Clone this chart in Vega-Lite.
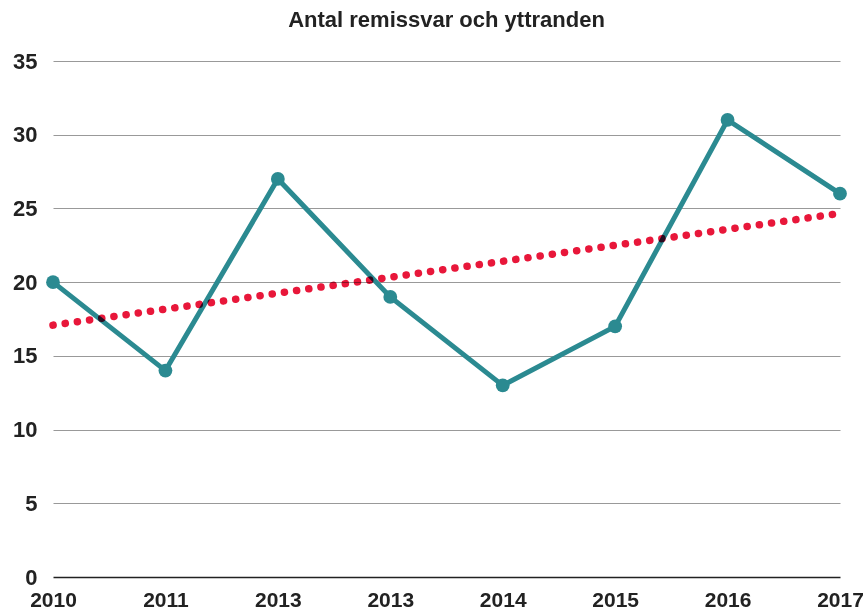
{
  "$schema": "https://vega.github.io/schema/vega-lite/v6.json",
  "autosize": {"type": "none"},
  "width": 787,
  "height": 516,
  "padding": {"left": 53, "top": 61, "right": 25, "bottom": 33},
  "background": "white",
  "title": {
    "text": "Antal remissvar och yttranden",
    "font": "Liberation Sans",
    "fontSize": 22,
    "fontWeight": "bold",
    "color": "#222",
    "anchor": "middle",
    "offset": 18
  },
  "config": {"view": {"stroke": null}},
  "data": {
    "values": [
      {"i": 0, "year": "2010", "count": 20},
      {"i": 1, "year": "2011", "count": 14},
      {"i": 2, "year": "2013", "count": 27},
      {"i": 3, "year": "2013", "count": 19},
      {"i": 4, "year": "2014", "count": 13},
      {"i": 5, "year": "2015", "count": 17},
      {"i": 6, "year": "2016", "count": 31},
      {"i": 7, "year": "2017", "count": 26}
    ]
  },
  "encoding": {
    "x": {
      "field": "i",
      "type": "quantitative",
      "scale": {"domain": [0, 7], "nice": false, "zero": false},
      "axis": {
        "title": null,
        "values": [0, 1, 2, 3, 4, 5, 6, 7],
        "labelExpr": "['2010','2011','2013','2013','2014','2015','2016','2017'][datum.value]",
        "grid": false,
        "ticks": false,
        "domain": false,
        "labelFont": "Liberation Sans",
        "labelFontSize": 21,
        "labelFontWeight": "bold",
        "labelColor": "#222",
        "labelPadding": 12,
        "labelFlush": false,
        "labelOverlap": false
      }
    },
    "y": {
      "field": "count",
      "type": "quantitative",
      "scale": {"domain": [0, 35], "nice": false},
      "axis": {
        "title": null,
        "values": [0, 5, 10, 15, 20, 25, 30, 35],
        "grid": true,
        "gridColor": {"condition": {"test": "datum.value === 0", "value": "#222"}, "value": "#999"},
        "gridWidth": {"condition": {"test": "datum.value === 0", "value": 1.5}, "value": 1},
        "ticks": false,
        "domain": false,
        "labelFont": "Liberation Sans",
        "labelFontSize": 22,
        "labelFontWeight": "bold",
        "labelColor": "#222",
        "labelPadding": 16,
        "labelOverlap": false
      }
    }
  },
  "layer": [
    {
      "mark": {"type": "line", "color": "#2b8a91", "strokeWidth": 5},
      "encoding": {}
    },
    {
      "mark": {"type": "point", "filled": true, "opacity": 1, "color": "#2b8a91", "size": 190},
      "encoding": {}
    },
    {
      "transform": [{"regression": "count", "on": "i", "extent": [0, 7]}],
      "mark": {"type": "line", "color": "#e8173a", "strokeWidth": 7.5, "strokeDash": [0.1, 12.2], "strokeCap": "round", "blend": "multiply"},
      "encoding": {}
    }
  ]
}
